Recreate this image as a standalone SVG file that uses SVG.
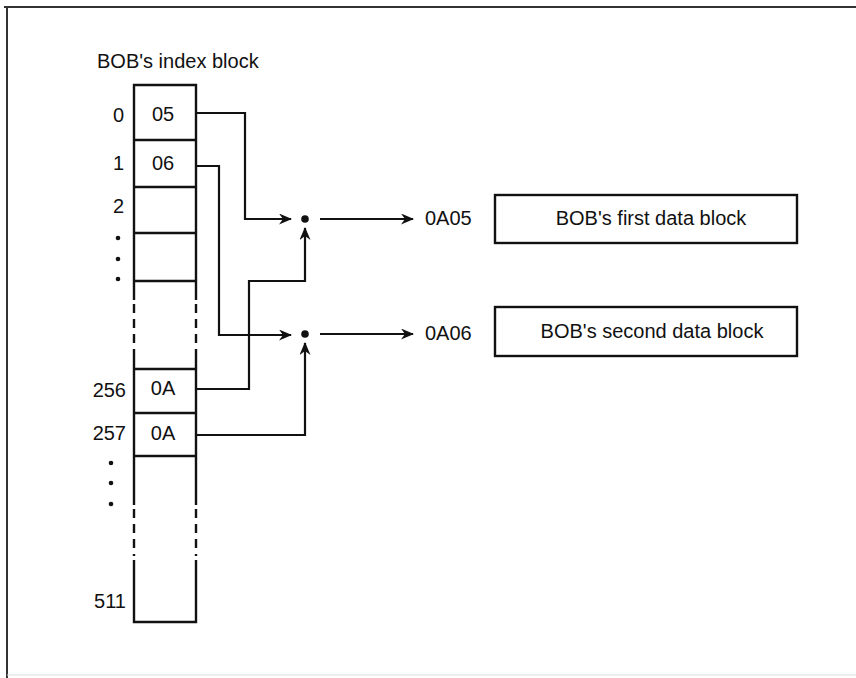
<svg xmlns="http://www.w3.org/2000/svg" width="856" height="678" viewBox="0 0 856 678">
<style>
.t{font-family:"Liberation Sans",Arial,sans-serif;font-size:20px;fill:#111}
.ln{stroke:#111;stroke-width:2.4;fill:none}
.ds{stroke:#111;stroke-width:2.4;fill:none;stroke-dasharray:9,6}
.c{stroke:#111;stroke-width:2.2;fill:none}
</style>
<defs>
<marker id="ah" viewBox="0 0 13 11" refX="12" refY="5.5" markerWidth="13" markerHeight="11" markerUnits="userSpaceOnUse" orient="auto">
<path d="M0,0 L13,5.5 L0,11 L4,5.5 Z" fill="#111"/>
</marker>
</defs>
<rect width="856" height="678" fill="#fff"/>
<g id="frame">
<line x1="4" y1="7" x2="856" y2="7" stroke="#333" stroke-width="2"/>
<line x1="7" y1="6" x2="7" y2="678" stroke="#333" stroke-width="2"/>
<line x1="7" y1="675" x2="856" y2="675" stroke="#ddd" stroke-width="1"/>
</g>
<g id="index-block">
<text class="t" x="97" y="68">BOB's index block</text>
<path class="ln" d="M134,300 V85 H196 V300"/>
<path class="ds" d="M134,304 V350 M196,304 V350"/>
<path class="ln" d="M134,350 V505 M196,350 V505"/>
<path class="ds" d="M134,509 V556 M196,509 V556"/>
<path class="ln" d="M134,560 V622 H196 V560"/>
<path class="ln" d="M134,140 H196 M134,187 H196 M134,233 H196 M134,281 H196 M134,369 H196 M134,413 H196 M134,456 H196"/>
<g class="t" text-anchor="middle">
<text x="163" y="121">05</text>
<text x="163" y="170">06</text>
<text x="163" y="395">0A</text>
<text x="163" y="440">0A</text>
</g>
<g class="t" text-anchor="end">
<text x="124" y="122">0</text>
<text x="124" y="170">1</text>
<text x="124" y="213">2</text>
<text x="126" y="397">256</text>
<text x="126" y="440">257</text>
<text x="126" y="608">511</text>
</g>
<g fill="#111">
<circle cx="118" cy="238" r="2.3"/><circle cx="118" cy="259" r="2.3"/><circle cx="118" cy="279" r="2.3"/>
<circle cx="111" cy="463" r="2.3"/><circle cx="111" cy="483" r="2.3"/><circle cx="111" cy="504" r="2.3"/>
</g>
</g>
<g id="junction-1"><circle cx="305" cy="219" r="3.8" fill="#111"/></g>
<g id="junction-2"><circle cx="305" cy="334" r="3.8" fill="#111"/></g>
<g id="block-0A05">
<text class="t" x="425" y="225">0A05</text>
<rect class="ln" x="495" y="195" width="302" height="48"/>
<text class="t" x="651" y="225" text-anchor="middle">BOB's first data block</text>
</g>
<g id="block-0A06">
<text class="t" x="425" y="340">0A06</text>
<rect class="ln" x="495" y="307" width="302" height="49"/>
<text class="t" x="652" y="338" text-anchor="middle">BOB's second data block</text>
</g>
<g id="connectors">
<path class="c" d="M196,113 H245 V219 H291" marker-end="url(#ah)"/>
<path class="c" d="M196,166 H219 V335 H291" marker-end="url(#ah)"/>
<path class="c" d="M196,389 H249 V281 H305 V228" marker-end="url(#ah)"/>
<path class="c" d="M196,435 H305 V343" marker-end="url(#ah)"/>
<path class="c" d="M320,219 H413" marker-end="url(#ah)"/>
<path class="c" d="M320,334 H413" marker-end="url(#ah)"/>
</g>
</svg>
